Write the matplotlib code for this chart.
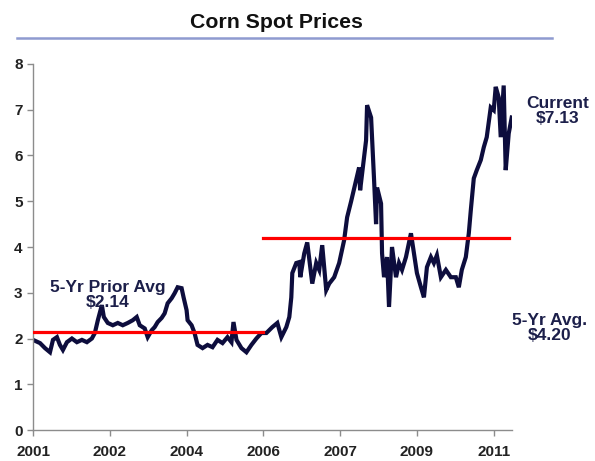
import matplotlib
matplotlib.use('Agg')
import matplotlib.pyplot as plt
from matplotlib.lines import Line2D

plt.rcParams['font.family'] = ['Liberation Sans', 'DejaVu Sans']

# time in decimal years, spot price in $/bu
years = [2001.000, 2001.152, 2001.260, 2001.368, 2001.433, 2001.519, 2001.584, 2001.649,
         2001.736, 2001.844, 2001.952, 2002.061, 2002.169, 2002.277, 2002.342, 2002.407,
         2002.494, 2002.537, 2002.623, 2002.732, 2002.840, 2002.948, 2003.056, 2003.165,
         2003.251, 2003.316, 2003.424, 2003.489, 2003.576, 2003.641, 2003.706, 2003.792,
         2003.857, 2003.922, 2004.009, 2004.074, 2004.139, 2004.225, 2004.268, 2004.333,
         2004.355, 2004.442, 2004.506, 2004.571, 2004.680, 2004.788, 2004.896, 2005.004,
         2005.113, 2005.221, 2005.307, 2005.351, 2005.416, 2005.524, 2005.632, 2005.740,
         2005.848, 2005.957, 2006.065, 2006.195, 2006.303, 2006.390, 2006.498, 2006.563,
         2006.606, 2006.628, 2006.714, 2006.779, 2006.801, 2006.887, 2006.952, 2007.061,
         2007.147, 2007.212, 2007.277, 2007.364, 2007.429, 2007.537, 2007.645, 2007.753,
         2007.818, 2007.905, 2008.013, 2008.078, 2008.100, 2008.229, 2008.251, 2008.338,
         2008.403, 2008.446, 2008.468, 2008.554, 2008.576, 2008.619, 2008.684, 2008.727,
         2008.792, 2008.879, 2008.944, 2009.009, 2009.095, 2009.203, 2009.268, 2009.333,
         2009.420, 2009.485, 2009.550, 2009.636, 2009.701, 2009.766, 2009.853, 2009.961,
         2010.069, 2010.177, 2010.242, 2010.307, 2010.394, 2010.459, 2010.502, 2010.567,
         2010.632, 2010.719, 2010.784, 2010.848, 2010.935, 2011.000, 2011.043, 2011.108,
         2011.152, 2011.216, 2011.260, 2011.325, 2011.390]
prices = [1.97, 1.90, 1.79, 1.70, 1.97, 2.03, 1.86, 1.75,
          1.92, 2.00, 1.92, 1.97, 1.92, 2.00, 2.12, 2.40,
          2.73, 2.47, 2.34, 2.29, 2.34, 2.29, 2.34, 2.40,
          2.47, 2.29, 2.22, 2.03, 2.18, 2.25, 2.36, 2.45,
          2.55, 2.77, 2.88, 2.99, 3.12, 3.10, 2.90, 2.62,
          2.40, 2.29, 2.12, 1.86, 1.79, 1.86, 1.81, 1.97,
          1.90, 2.03, 1.92, 2.36, 1.97, 1.79, 1.70, 1.86,
          2.00, 2.12, 2.12, 2.25, 2.34, 2.03, 2.25, 2.47,
          2.90, 3.43, 3.65, 3.67, 3.34, 3.86, 4.10, 3.20,
          3.65, 3.50, 4.04, 3.06, 3.20, 3.34, 3.65, 4.15,
          4.65, 5.00, 5.46, 5.74, 5.24, 6.33, 7.10, 6.83,
          5.46, 4.50, 5.30, 4.95, 3.86, 3.34, 3.78, 2.69,
          4.00, 3.34, 3.65, 3.50, 3.78, 4.30, 3.86, 3.43,
          3.12, 2.90, 3.56, 3.78, 3.65, 3.82, 3.34, 3.50,
          3.34, 3.34, 3.12, 3.50, 3.78, 4.30, 4.80, 5.50,
          5.68, 5.90, 6.18, 6.40, 7.05, 6.99, 7.50, 7.27,
          6.40, 7.53, 5.68, 6.48, 6.83]

prior_avg = 2.14
recent_avg = 4.20
prior_span = [2001.0, 2006.0]
recent_span = [2006.0, 2011.33]

tick_pos = [2001.0, 2001.0 + 20 / 12, 2001.0 + 40 / 12, 2006.0,
            2006.0 + 20 / 12, 2006.0 + 40 / 12, 2011.0]
tick_labels = ['2001', '2002', '2004', '2006', '2007', '2009', '2011']

navy = '#0d0d3d'
text_navy = '#1c1f4a'

fig = plt.figure(figsize=(5.95, 4.61), dpi=100)
ax = fig.add_axes([0.0555, 0.0672, 0.8045, 0.794])

ax.plot(years, prices, color=navy, lw=3.0, solid_joinstyle='miter', zorder=2)
ax.plot(prior_span, [prior_avg, prior_avg], color='#ff0000', lw=2.3, zorder=3)
ax.plot(recent_span, [recent_avg, recent_avg], color='#ff0000', lw=2.3, zorder=3)

ax.set_xlim(2001.0, 2011.39)
ax.set_ylim(0, 8)
ax.set_yticks(range(0, 9))
ax.set_xticks(tick_pos)
ax.set_xticklabels(tick_labels)

for s in ['top', 'right']:
    ax.spines[s].set_visible(False)
for s in ['left', 'bottom']:
    ax.spines[s].set_color('#8c8c8c')
    ax.spines[s].set_linewidth(1.0)
ax.tick_params(axis='both', colors='#8c8c8c', length=4, width=1.0,
               labelcolor='#222222', labelsize=11)
ax.tick_params(axis='x', pad=7)
for lab in ax.get_xticklabels() + ax.get_yticklabels():
    lab.set_fontweight('bold')

ax.text(2002.62, 2.95, '5-Yr Prior Avg\n$2.14', ha='center', va='center',
        fontsize=12.5, fontweight='bold', color=text_navy, linespacing=1.0)
fig.text(558 / 595, 1 - 111 / 461, 'Current\n$7.13', ha='center', va='center',
         fontsize=12.5, fontweight='bold', color=text_navy, linespacing=1.0)
fig.text(550 / 595, 1 - 328 / 461, '5-Yr Avg.\n$4.20', ha='center', va='center',
         fontsize=12.5, fontweight='bold', color=text_navy, linespacing=1.0)

fig.text(276 / 595, 1 - 22 / 461, 'Corn Spot Prices', ha='center', va='center',
         fontsize=15.3, fontweight='bold', color='#111111')
fig.add_artist(Line2D([17 / 595, 552 / 595], [1 - 38 / 461, 1 - 38 / 461],
                      color='#8f9bd0', lw=1.8, transform=fig.transFigure))

fig.savefig('out.png', dpi=100, facecolor='white')
